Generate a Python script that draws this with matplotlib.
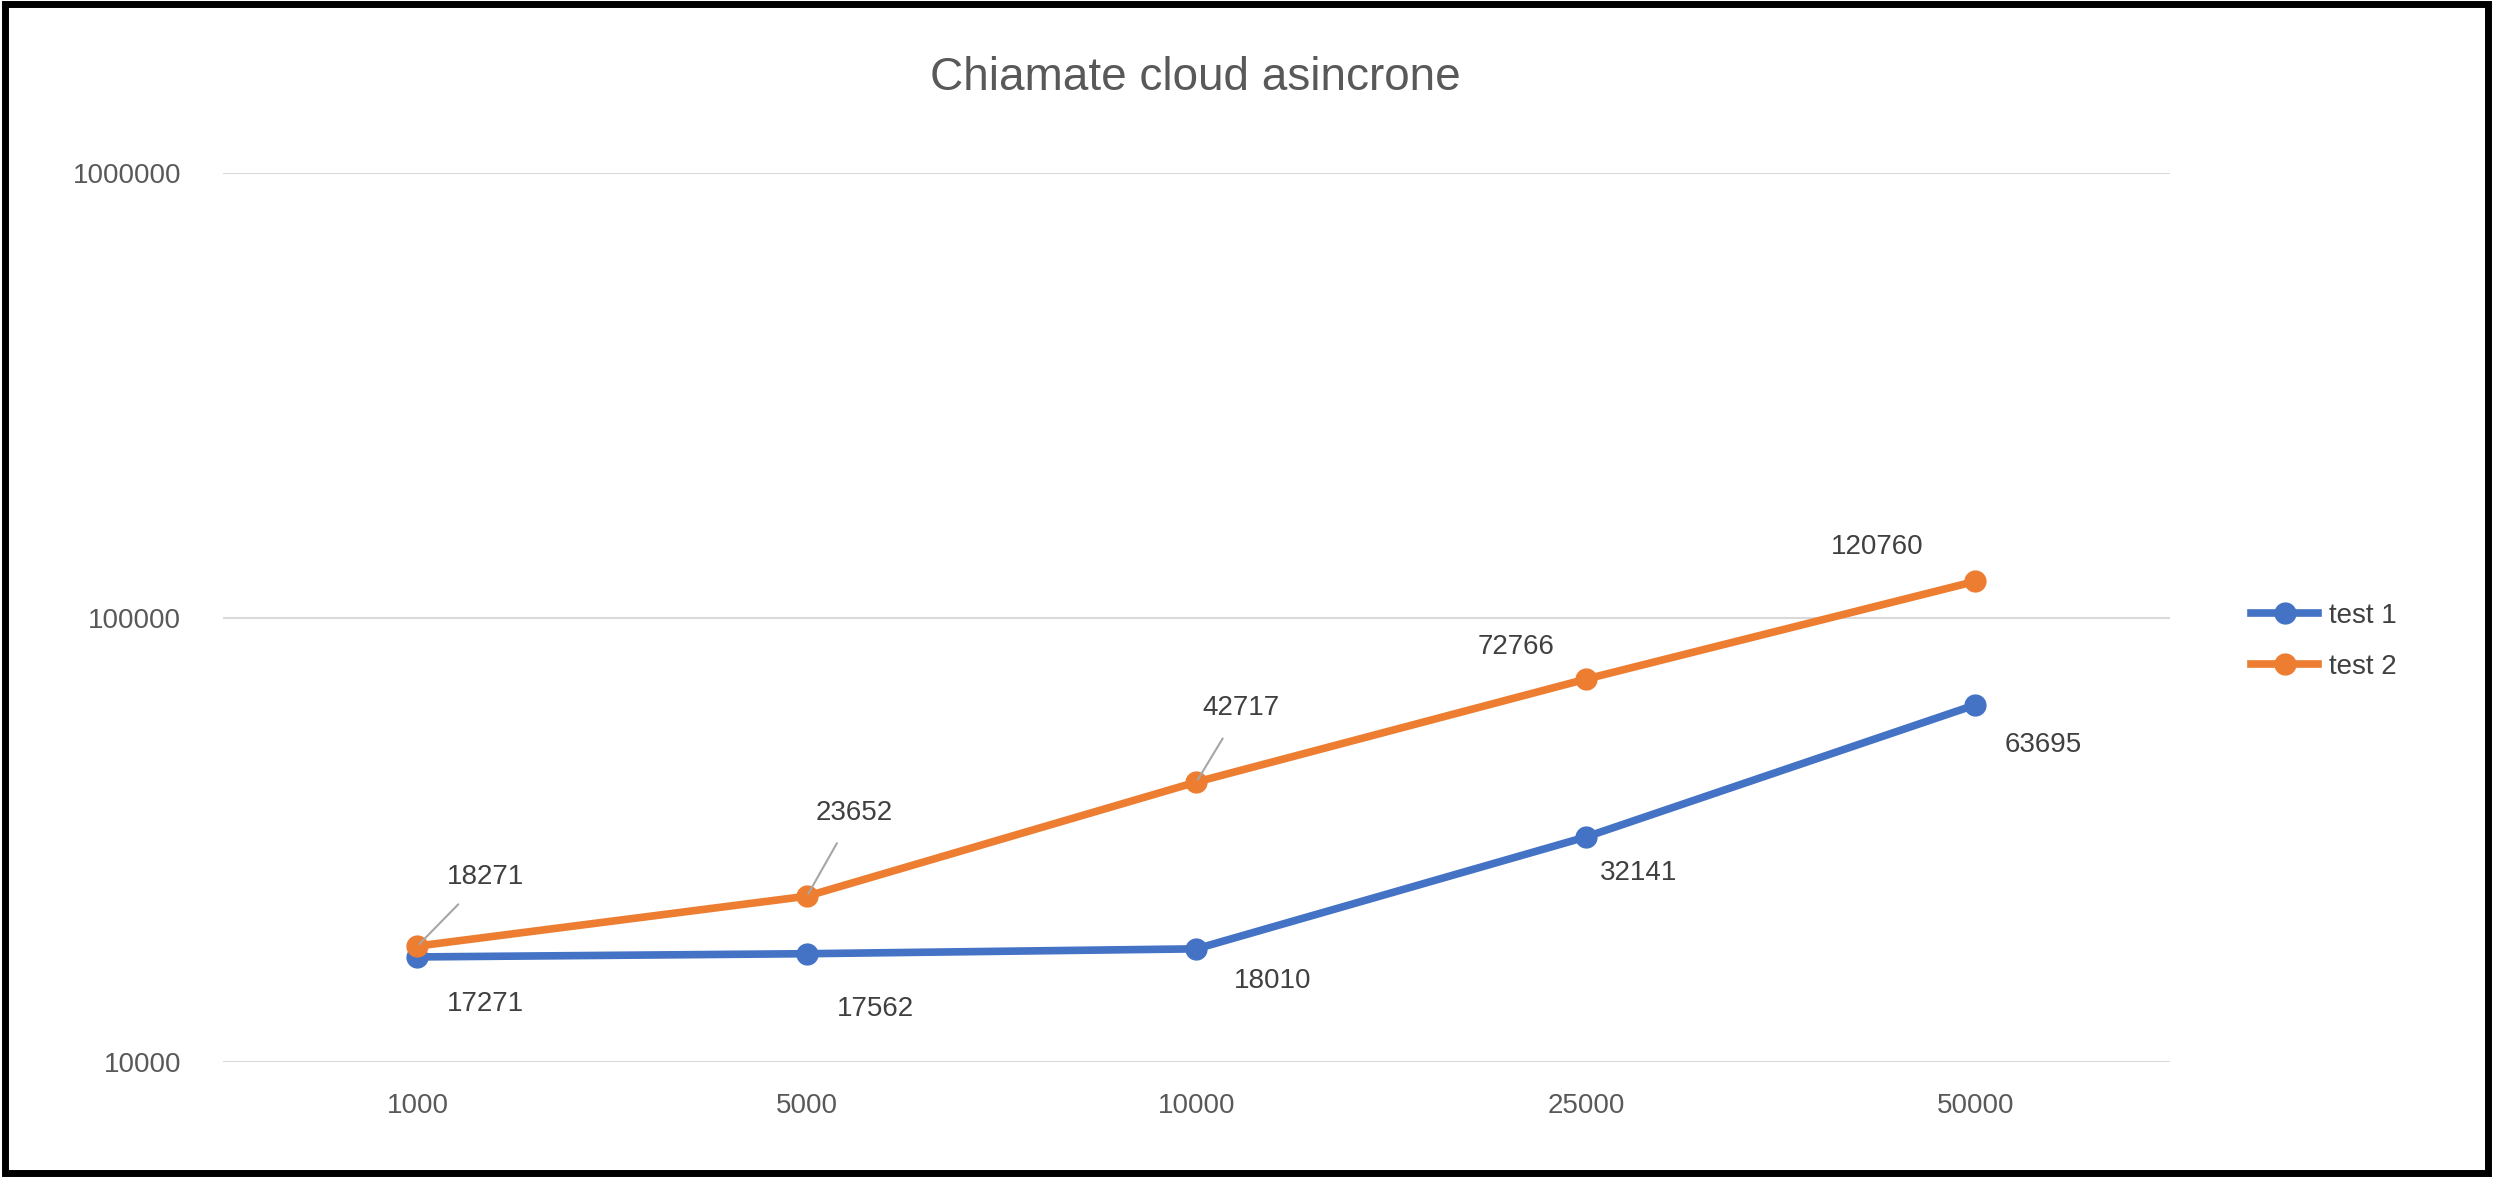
import matplotlib
matplotlib.use("Agg")
import matplotlib.pyplot as plt
from matplotlib.patches import Rectangle

plt.rcParams['font.family'] = ['Liberation Sans', 'DejaVu Sans']

categories = ["1000", "5000", "10000", "25000", "50000"]
test1 = [17271, 17562, 18010, 32141, 63695]
test2 = [18271, 23652, 42717, 72766, 120760]

off1 = [(49, -34), (49, -40), (55, -23), (38, -26), (49, -29)]
off2 = [(49, 50), (34, 60), (32, 53), (-50, 23), (-71, 25)]
lead2 = [True, True, True, False, False]

fig = plt.figure(figsize=(24.93, 11.77), dpi=100)
ax = fig.add_axes([0.0893, 0.0973, 0.7812, 0.7557])
x = list(range(len(categories)))
blue, orange = "#4472C4", "#ED7D31"
ax.plot(x, test1, color=blue, lw=5.5, marker="o", ms=15, label="test 1", zorder=3)
ax.plot(x, test2, color=orange, lw=5.5, marker="o", ms=15, label="test 2", zorder=3)
ax.set_yscale("log")
ax.set_ylim(10000, 1000000)
ax.set_xlim(-0.5, 4.5)
ax.set_xticks(x, categories)
ax.set_yticks([10000, 100000, 1000000], ["10000", "100000", "1000000"])
ax.minorticks_off()
ax.tick_params(axis="y", which="both", length=0, labelsize=20, colors="#595959", pad=30)
ax.tick_params(axis="x", length=0, labelsize=20, colors="#595959", pad=22)
ax.grid(axis="y", color="#D9D9D9", lw=1.5)
ax.set_axisbelow(True)
for s in ax.spines.values():
    s.set_visible(False)

for xi, v, o in zip(x, test1, off1):
    ax.annotate(str(v), (xi, v), xytext=o, textcoords="offset points",
                ha="center", va="center", fontsize=20, color="#404040")
for xi, v, o, l in zip(x, test2, off2, lead2):
    ax.annotate(str(v), (xi, v), xytext=o, textcoords="offset points",
                ha="center", va="center", fontsize=20, color="#404040",
                arrowprops=dict(arrowstyle="-", color="#A6A6A6", lw=1.5, shrinkA=12, shrinkB=2) if l else None)

fig.text(0.4795, 0.934, "Chiamate cloud asincrone", ha="center", va="center",
         fontsize=33, color="#595959")
fig.legend(loc="center left", bbox_to_anchor=(0.893, 0.455), frameon=False,
           fontsize=20, labelcolor="#404040", handlelength=2.4, handletextpad=0.4,
           labelspacing=0.9)
fig.patches.append(Rectangle((0.002, 0.003), 0.996, 0.994, transform=fig.transFigure,
                             fill=False, ec="black", lw=5))
fig.savefig("out.png", dpi=100)
